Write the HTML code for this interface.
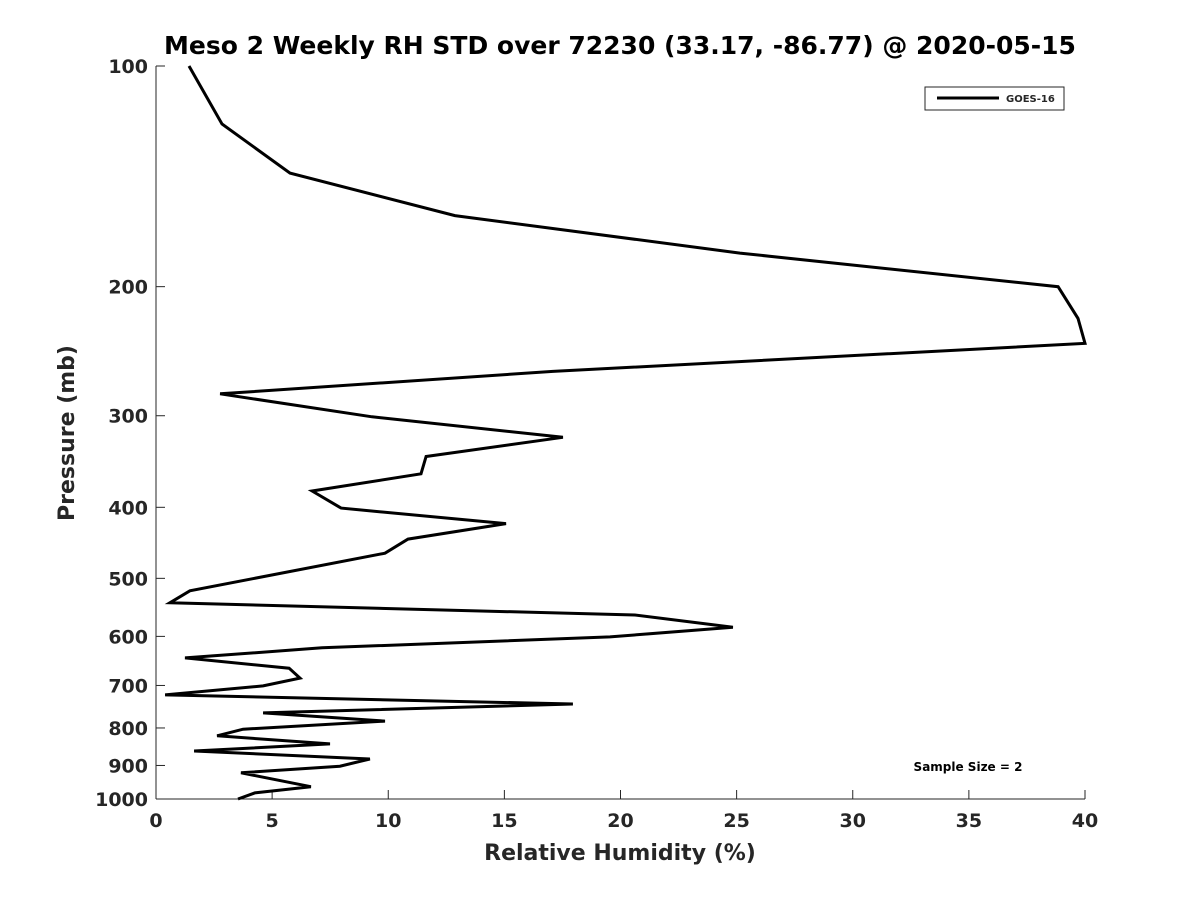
<!DOCTYPE html>
<html><head><meta charset="utf-8"><style>
body{margin:0;background:#fff;}
svg text{font-family:"DejaVu Sans","Liberation Sans",sans-serif;font-weight:bold;fill:#262626;}
</style></head><body>
<svg id="chart" width="1200" height="900" xmlns="http://www.w3.org/2000/svg">
<rect width="1200" height="900" fill="#fff"/>
<text x="620" y="54" font-size="25" text-anchor="middle" fill="#000" style="fill:#000">Meso 2 Weekly RH STD over 72230 (33.17, -86.77) @ 2020-05-15</text>
<g id="axes"></g>
<path id="line" fill="none" stroke="#000" stroke-width="3" stroke-linejoin="miter"/>
<text x="620" y="860" font-size="22" text-anchor="middle">Relative Humidity (%)</text>
<text transform="translate(74,433) rotate(-90)" font-size="22" text-anchor="middle">Pressure (mb)</text>
<g>
<rect x="925" y="87" width="139" height="23" fill="#fff" stroke="#262626" stroke-width="1"/>
<line x1="937" y1="98" x2="999" y2="98" stroke="#000" stroke-width="3"/>
<text x="1006" y="102" font-size="10">GOES-16</text>
</g>
<text x="968" y="771" font-size="12" text-anchor="middle" fill="#000" style="fill:#000">Sample Size = 2</text>
</svg>
<script>
const rhValues=[1.42,2.84,5.77,12.87,25.14,38.84,39.70,40.0,17.09,2.76,9.30,17.52,11.63,11.41,6.72,7.97,15.07,10.85,9.86,1.46,0.60,20.62,24.84,19.55,7.15,1.25,5.73,6.20,4.61,0.39,17.95,4.61,9.86,3.75,2.63,7.49,1.64,9.21,7.92,3.66,6.67,4.26,3.53];
const pressures=[100,120,140,160,180,200,221,239,261,280,301,321,341,360,380,401,421,442,462,520,540,561,583,601,622,642,663,684,701,721,742,763,783,803,820,841,860,882,902,921,962,981,1000];
const xTicks=[0,5,10,15,20,25,30,35,40];
const yTicks=[100,200,300,400,500,600,700,800,900,1000];
const L=156,R=1085,T=66,B=799;
const xs=v=>L+(v-0)/(40-0)*(R-L);
const ys=p=>T+(Math.log10(p)-2)*(B-T);
const NS="http://www.w3.org/2000/svg";
const ax=document.getElementById('axes');
function mk(tag,attrs){const e=document.createElementNS(NS,tag);for(const k in attrs)e.setAttribute(k,attrs[k]);ax.appendChild(e);return e;}
let e=mk('line',{x1:L,y1:T,x2:L,y2:B,stroke:'#262626','stroke-width':1});


e=mk('line',{x1:L,y1:B,x2:R,y2:B,stroke:'#262626','stroke-width':1});


xTicks.forEach(v=>{
 const x=xs(v);
 let t=mk('line',{x1:x,y1:B,x2:x,y2:B-9,stroke:'#262626'});
 
 
 let l=mk('text',{x:x,y:B+28,'font-size':19,'text-anchor':'middle'});l.textContent=v;
 
 
});
yTicks.forEach(p=>{
 const y=ys(p);
 let t=mk('line',{x1:L,y1:y,x2:L+9,y2:y,stroke:'#262626'});
 
 
 let l=mk('text',{x:L-8,y:y+7,'font-size':19,'text-anchor':'end'});l.textContent=p;
 
 
});
document.getElementById('line').setAttribute('d',rhValues.map((v,i)=>(i?'L':'M')+xs(v).toFixed(1)+','+ys(pressures[i]).toFixed(1)).join(''));
</script>
</body></html>
